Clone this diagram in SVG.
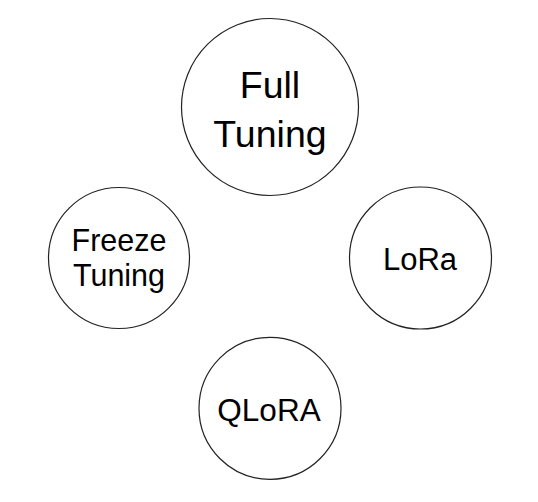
<svg xmlns="http://www.w3.org/2000/svg" width="538" height="502" viewBox="0 0 538 502">
<style>
.n{fill:#fff;stroke:#222;stroke-width:1.2}
.t{font-family:"Liberation Sans",Arial,sans-serif;fill:#000;text-anchor:middle}
</style>
<rect width="538" height="502" fill="#fff"/>
<g id="connectors"></g>
<g id="full-tuning">
<circle class="n" cx="270" cy="107" r="88.5"/>
<text class="t" x="270" y="98" font-size="37.5">Full</text>
<text class="t" x="270" y="146.5" font-size="37.5">Tuning</text>
</g>
<g id="freeze-tuning">
<circle class="n" cx="119" cy="258" r="70.5"/>
<text class="t" x="119" y="251" font-size="30.5">Freeze</text>
<text class="t" x="119" y="286" font-size="30.5">Tuning</text>
</g>
<g id="lora">
<circle class="n" cx="420.5" cy="258" r="71"/>
<text class="t" x="420" y="270" font-size="31">LoRa</text>
</g>
<g id="qlora">
<circle class="n" cx="270" cy="408.3" r="71"/>
<text class="t" x="269" y="420.5" font-size="31.5">QLoRA</text>
</g>
</svg>
